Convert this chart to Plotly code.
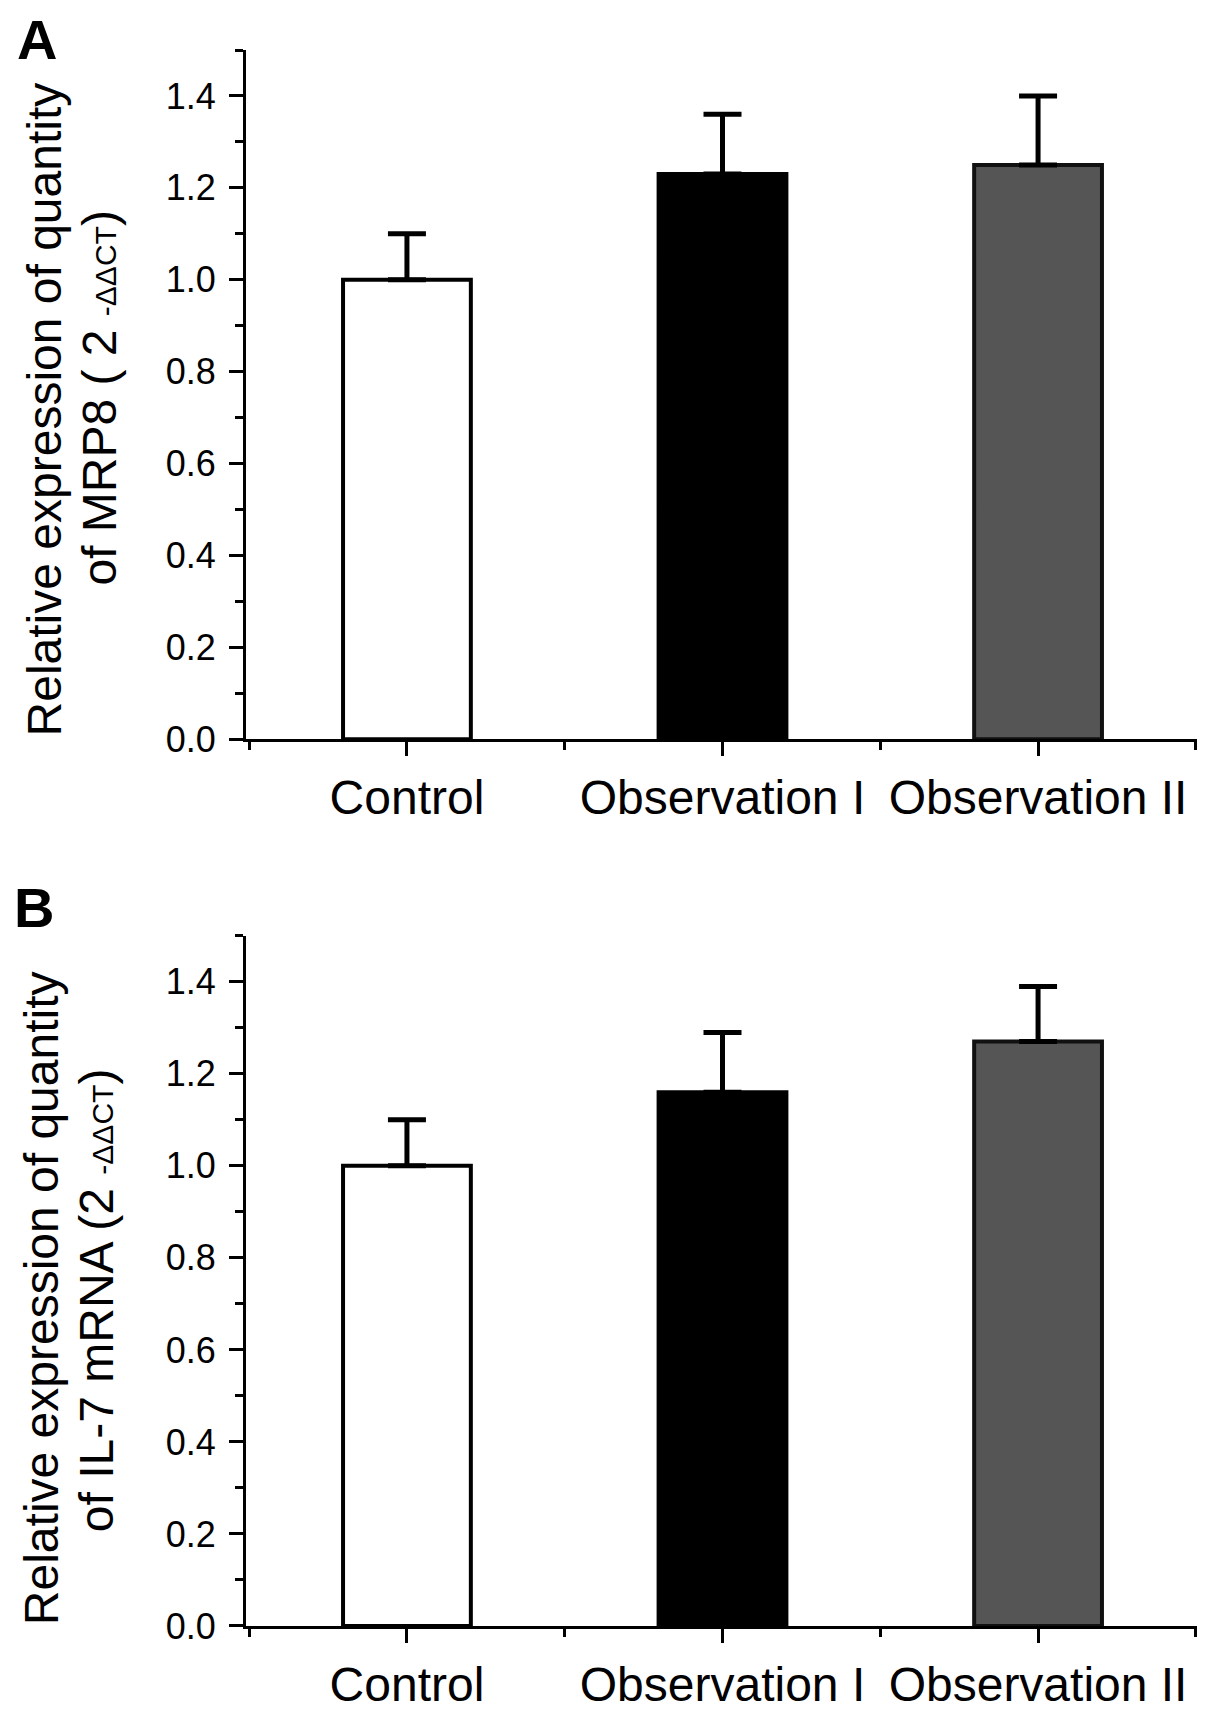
import plotly.graph_objects as go

# categories and values
groups = ['Control', 'Observation I', 'Observation II']
mrp8_mean = [1.00, 1.23, 1.25]
mrp8_sd = [0.10, 0.13, 0.15]
il7_mean = [1.00, 1.16, 1.27]
il7_sd = [0.10, 0.13, 0.12]
bar_fill = ['#ffffff', '#000000', '#555555']
bar_edge = ['#000000', '#000000', '#111111']

y_ticks = [0.0, 0.2, 0.4, 0.6, 0.8, 1.0, 1.2, 1.4]
y_ticktext = ['%.1f' % v for v in y_ticks]

FONT = 'Liberation Sans, Arial, sans-serif'
W, H = 1205, 1715
ML, MR, MT, MB = 238, 14, 42, 77
PW = W - ML - MR
PH = H - MT - MB


def px_x(px):
    return (px - ML) / PW


def px_y(py):
    return 1 - (py - MT) / PH


xpos = list(range(len(groups)))

fig = go.Figure()

for means, sds, xa, ya in [(mrp8_mean, mrp8_sd, 'x', 'y'), (il7_mean, il7_sd, 'x2', 'y2')]:
    fig.add_trace(go.Bar(
        x=xpos, y=means, width=0.405,
        xaxis=xa, yaxis=ya,
        marker=dict(color=bar_fill, line=dict(color=bar_edge, width=4)),
        error_y=dict(type='data', symmetric=False, array=sds,
                     arrayminus=[0] * len(sds),
                     color='black', thickness=5, width=19),
        showlegend=False,
    ))

xaxis_style = dict(
    range=[-0.51, 2.51], showline=True, linecolor='black', linewidth=3,
    tickmode='array', tickvals=xpos, ticktext=groups,
    ticks='outside', ticklen=14, tickwidth=3, tickcolor='black',
    minor=dict(tickmode='array', tickvals=[-0.5, 0.5, 1.5, 2.5],
               ticks='outside', ticklen=8, tickwidth=3, tickcolor='black'),
    tickfont=dict(family=FONT, size=48, color='black'),
    showgrid=False, zeroline=False, fixedrange=True,
)
yaxis_style = dict(
    range=[0, 1.5], showline=True, linecolor='black', linewidth=3,
    tickmode='array', tickvals=y_ticks, ticktext=y_ticktext,
    ticks='outside', ticklen=14, tickwidth=3, tickcolor='black',
    minor=dict(dtick=0.1, tick0=0, ticks='outside', ticklen=8,
               tickwidth=3, tickcolor='black'),
    tickfont=dict(family=FONT, size=36, color='black'),
    ticklabelstandoff=6,
    showgrid=False, zeroline=False, fixedrange=True,
)

fig.update_layout(
    width=W, height=H,
    margin=dict(l=ML, r=MR, t=MT, b=MB),
    paper_bgcolor='white', plot_bgcolor='white',
    xaxis=dict(xaxis_style, domain=[0, 1], anchor='y'),
    yaxis=dict(yaxis_style, domain=[px_y(740), 1.0], anchor='x'),
    xaxis2=dict(xaxis_style, domain=[0, 1], anchor='y2'),
    yaxis2=dict(yaxis_style, domain=[0, px_y(939)], anchor='x2'),
    font=dict(family=FONT, color='black'),
)

small = "<span style='font-size:30px'>-ΔΔCT</span>"
title_font = dict(family=FONT, size=48, color='black')
labels = [
    ('Relative expression of quantity', 36, 406),
    ('of MRP8 ( 2 ' + small + ')', 92, 395),
    ('Relative expression of quantity', 33, 1306),
    ('of IL-7 mRNA (2 ' + small + ')', 88, 1308),
]
for text, cx, cy in labels:
    fig.add_annotation(text=text, xref='paper', yref='paper',
                       x=px_x(cx), y=px_y(cy), xanchor='center', yanchor='middle',
                       textangle=-90, showarrow=False, font=title_font)

for text, cx, cy in [('A', 29, 31), ('B', 26, 910)]:
    fig.add_annotation(text='<b>%s</b>' % text, xref='paper', yref='paper',
                       x=px_x(cx), y=px_y(cy), xanchor='center', yanchor='middle',
                       showarrow=False,
                       font=dict(family=FONT, size=56, color='black'))

fig.write_html('out.html')
